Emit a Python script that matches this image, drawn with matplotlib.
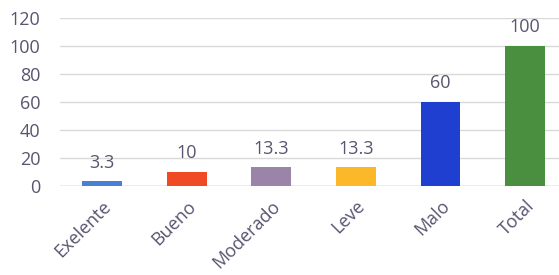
import matplotlib.pyplot as plt

# datos
categorias = ["Exelente", "Bueno", "Moderado", "Leve", "Malo", "Total"]
valores = [3.3, 10, 13.3, 13.3, 60, 100]
etiquetas = ["3.3", "10", "13.3", "13.3", "60", "100"]
colores = ["#4a7fd8", "#f04a24", "#9a85a8", "#fbb829", "#1f3fd0", "#4a8f3f"]

plt.rcParams["font.family"] = ["Open Sans", "DejaVu Sans"]
texto = "#5a5470"

fig = plt.figure(figsize=(5.59, 2.75), dpi=100)
ax = fig.add_axes([0.107, 0.3236, 0.893, 0.6109])

x = range(len(categorias))
barras = ax.bar(x, valores, width=0.47, color=colores, zorder=3)
ax.bar_label(barras, labels=etiquetas, padding=7, fontsize=13, color=texto)

ax.set_ylim(0, 120)
ax.set_yticks(range(0, 121, 20))
ax.set_xlim(-0.5, 5.4)
ax.set_xticks(list(x))
ax.set_xticklabels(categorias, rotation=45, ha="right", rotation_mode="anchor")
ax.tick_params(axis="both", length=0, labelsize=13, labelcolor=texto)
ax.tick_params(axis="x", pad=8)
ax.tick_params(axis="y", pad=14)
ax.grid(axis="y", color="#d9d9d9", linewidth=1, zorder=0)
ax.axhline(0, color="#bfbfbf", linewidth=1, zorder=2)
for s in ax.spines.values():
    s.set_visible(False)

fig.savefig("out.png", dpi=100)
